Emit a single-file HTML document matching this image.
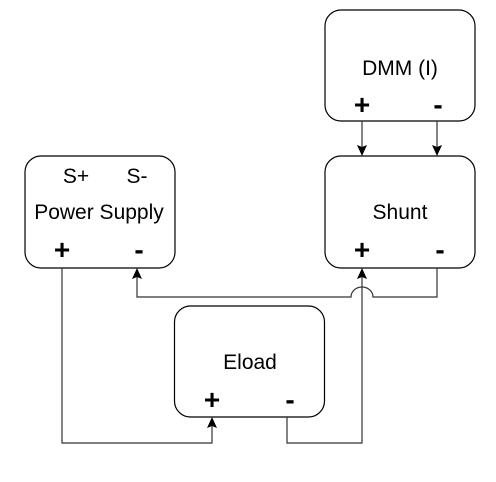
<!DOCTYPE html>
<html><head><style>
html,body{margin:0;padding:0;background:#fff;}
svg text{font-family:"Liberation Sans",sans-serif;}
</style></head><body>
<svg width="496" height="477" viewBox="0 0 496 477" xmlns="http://www.w3.org/2000/svg">
<g fill="#fff" stroke="#000" stroke-width="1.2">
<rect x="325" y="10" width="150" height="111" rx="16"/>
<rect x="25" y="156" width="150" height="112" rx="16"/>
<rect x="325" y="156" width="150" height="112" rx="16"/>
<rect x="174.5" y="306" width="150" height="111" rx="16"/>
</g>
<g fill="none" stroke="#333" stroke-width="1.2">
<path d="M362,121 V154"/>
<path d="M437,121 V154"/>
<path d="M62,268 V443 H212 V419"/>
<path d="M287,417 V443 H362 V270"/>
<path d="M437,268 V297 H373 A11,10 0 0 0 351,297 H137 V270"/>
</g>
<g fill="#000">
<path d="M357,145 L362,156 L367,145 L362,147 Z"/>
<path d="M432,145 L437,156 L442,145 L437,147 Z"/>
<path d="M207,428 L212,417 L217,428 L212,426 Z"/>
<path d="M357,279 L362,268 L367,279 L362,277 Z"/>
<path d="M132,279 L137,268 L142,279 L137,277 Z"/>
</g>
<g font-size="21" fill="#000" text-anchor="middle">
<text x="400" y="75">DMM (I)</text>
<text x="99" y="219">Power Supply</text>
<text x="76" y="183">S+</text>
<text x="137" y="183">S-</text>
<text x="400" y="219">Shunt</text>
<text x="250" y="369">Eload</text>
</g>
<g font-size="28" font-weight="bold" fill="#000" text-anchor="middle">
<text x="362" y="114">+</text>
<text x="438" y="114">-</text>
<text x="62" y="259">+</text>
<text x="139" y="259">-</text>
<text x="362" y="259">+</text>
<text x="440" y="259">-</text>
<text x="212" y="409">+</text>
<text x="290" y="409">-</text>
</g>
</svg>
</body></html>
